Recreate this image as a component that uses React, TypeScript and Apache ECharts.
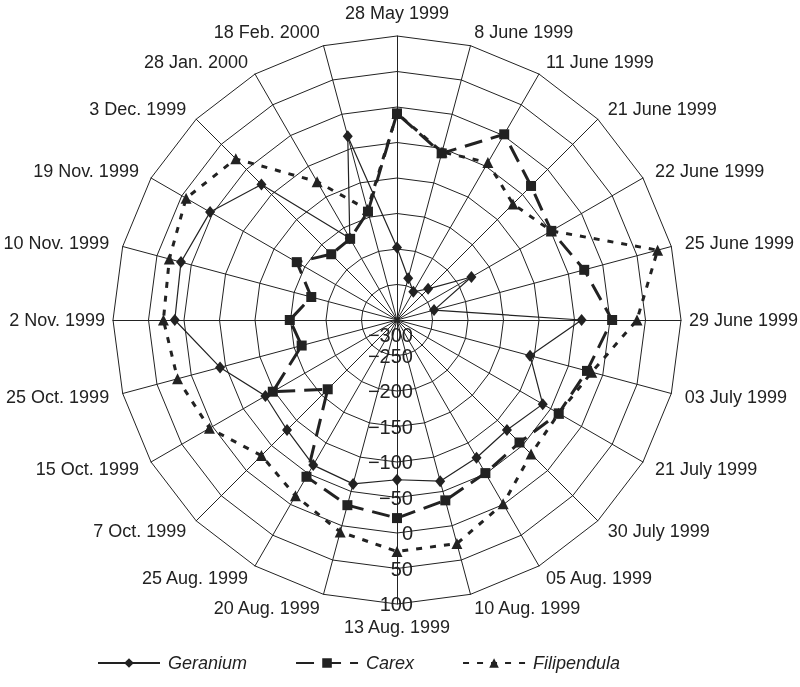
import React, { useEffect, useRef } from 'react';
import * as echarts from 'echarts';

const categories = [
  '28 May 1999', '8 June 1999', '11 June 1999', '21 June 1999', '22 June 1999', '25 June 1999',
  '29 June 1999', '03 July 1999', '21 July 1999', '30 July 1999', '05 Aug. 1999', '10 Aug. 1999',
  '13 Aug. 1999', '20 Aug. 1999', '25 Aug. 1999', '7 Oct. 1999', '15 Oct. 1999', '25 Oct. 1999',
  '2 Nov. 1999', '10 Nov. 1999', '19 Nov. 1999', '3 Dec. 1999', '28 Jan. 2000', '18 Feb. 2000',
];

const geranium = [
  -198, -239, -254, -238, -179, -246, -40, -106, -63, -81, -76, -65,
  -75, -61, -64, -81, -86, -42, 13, 15, 4, -30, -167, -32,
];

const carex = [
  -9, -57, 2, -33, -49, -27, 3, -23, -37, -56, -51, -37,
  -21, -30, -45, -162, -98, -161, -149, -175, -137, -169, -168, -142,
];

const filipendula = [
  -9, -55, -44, -69, -49, 80, 38, -16, -37, -33, -1, 26,
  26, 9, -14, -30, 5, 20, 29, 32, 43, 21, -75, -139,
];

const seriesNames = ['Geranium', 'Carex', 'Filipendula'];
const axisMin = -300;
const axisMax = 100;
const axisSplits = 8;
const labelledCategory = '13 Aug. 1999';
const sideCategories = ['29 June 1999', '2 Nov. 1999'];

function formatTick(v: number): string {
  const s = v < 0 ? '\u2212' + Math.abs(v) : String(v);
  return v === axisMin ? '{c|' + s + '}' : s;
}

export default function App() {
  const ref = useRef<HTMLDivElement>(null);

  useEffect(() => {
    const chart = echarts.init(ref.current!, null, { renderer: 'svg' });
    const font = '"Liberation Sans", Arial, sans-serif';
    const ink = '#222';
    const n = categories.length;
    // the radar runs counter-clockwise; walk the categories so they read clockwise
    const order = categories.map((_, j) => (n - j) % n);
    const pick = (arr: any[]) => order.map((i) => arr[i]);

    const styles = [
      { symbol: 'diamond', symbolSize: [10, 12], lineStyle: { type: 'solid', width: 1.2, color: ink } },
      { symbol: 'rect', symbolSize: 10, lineStyle: { type: [18, 9], width: 3, color: ink } },
      { symbol: 'triangle', symbolSize: 11, lineStyle: { type: [6, 8], width: 3, color: ink } },
    ];
    const values = [geranium, carex, filipendula];

    chart.setOption({
      animation: false,
      legend: {
        data: seriesNames,
        bottom: 10,
        left: 92,
        itemWidth: 62,
        itemHeight: 12,
        itemGap: 48,
        textStyle: { fontStyle: 'italic', fontSize: 18, fontFamily: font, color: ink, padding: [0, 0, 0, 3] },
      },
      grid: { left: 0, top: 0, width: 1, height: 1, show: false },
      xAxis: { type: 'value', show: false },
      yAxis: { type: 'value', show: false },
      radar: {
        center: [397, 320],
        radius: 284,
        startAngle: 90,
        splitNumber: axisSplits,
        shape: 'polygon',
        nameGap: 14,
        axisName: { color: ink, fontSize: 18, fontFamily: font },
        splitLine: { lineStyle: { color: ink, width: 1 } },
        splitArea: { show: false },
        axisLine: { lineStyle: { color: ink, width: 1 } },
        axisTick: { show: false },
        axisLabel: { show: false },
        indicator: pick(categories).map((name: string) => {
          const ind: any = { name, min: axisMin, max: axisMax };
          if (sideCategories.includes(name)) ind.nameGap = 8;
          if (name === labelledCategory) {
            ind.axisLabel = {
              show: true,
              fontSize: 20,
              fontFamily: font,
              color: ink,
              margin: 16,
              align: 'right',
              verticalAlign: 'middle',
              formatter: formatTick,
              rich: { c: { fontSize: 20, fontFamily: font, color: ink, padding: [30, 0, 0, 0] } },
            };
          }
          return ind;
        }),
      },
      series: [
        ...seriesNames.map((name, k) => ({
          type: 'line',
          name,
          data: [],
          symbol: styles[k].symbol,
          lineStyle: styles[k].lineStyle,
          itemStyle: { color: ink },
        })),
        {
          type: 'radar',
          z: 3,
          data: [2, 1, 0].map((k) => ({
            name: seriesNames[k],
            value: pick(values[k]),
            symbol: styles[k].symbol,
            symbolSize: styles[k].symbolSize,
            lineStyle: styles[k].lineStyle,
            itemStyle: { color: ink },
          })),
        },
      ],
    });
    return () => chart.dispose();
  }, []);

  return <div ref={ref} style={{ position: 'fixed', left: 0, top: 0, width: 800, height: 687 }} />;
}
